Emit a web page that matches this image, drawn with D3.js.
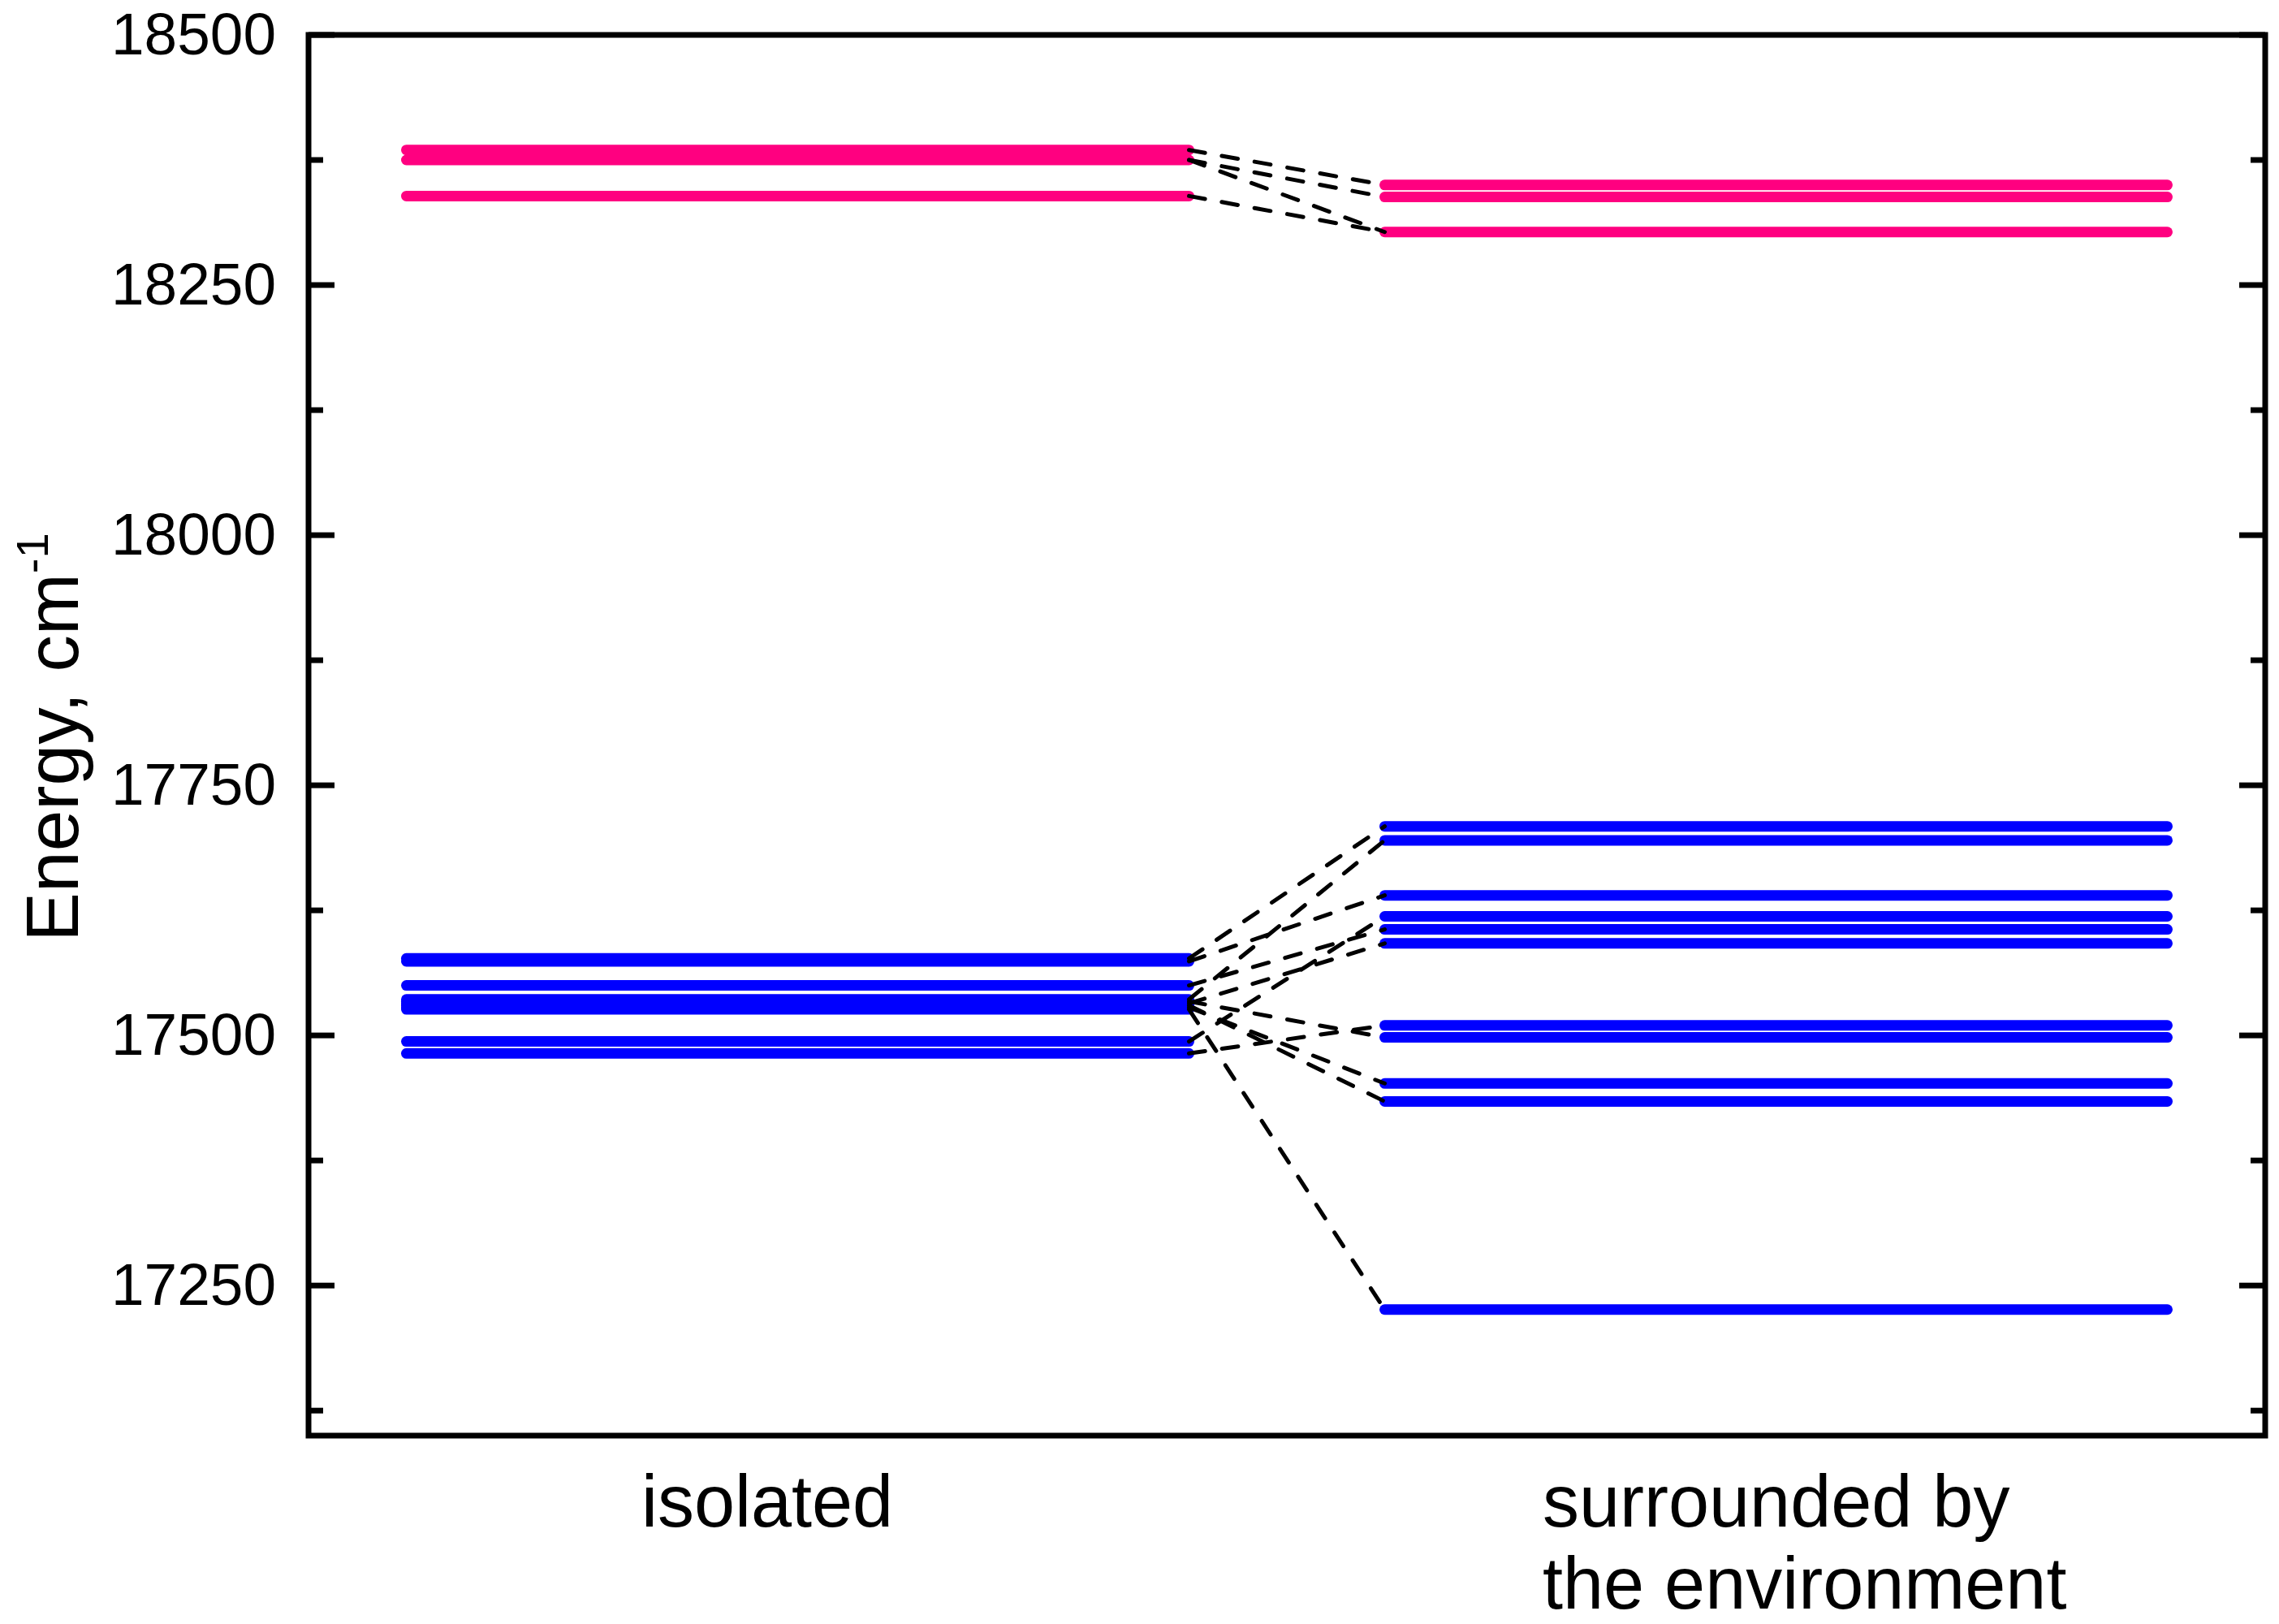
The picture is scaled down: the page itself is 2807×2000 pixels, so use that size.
<!DOCTYPE html>
<html>
<head>
<meta charset="utf-8">
<script src="https://cdn.jsdelivr.net/npm/d3@7"></script>
<style>
    body { margin: 0; background: #fff; }
    text { font-family: "Liberation Sans", Arial, sans-serif; fill: #000; }
</style>
</head>
<body>
<div id="chart"></div>
<script>
// energy levels, cm-1
const isolatedPink = [18385, 18375, 18339];
const surroundedPink = [18350, 18338, 18303];
const isolatedBlue = [17577, 17574, 17550, 17536, 17534, 17532, 17530, 17528, 17526, 17494, 17482];
const surroundedBlue = [17709, 17695, 17640, 17619, 17606, 17592, 17510, 17498, 17452, 17434, 17226];

// which isolated level goes to which level in the environment
const pinkLinks = [[18385, 18350], [18375, 18338], [18375, 18303], [18339, 18303]];
const blueLinks = [
    [17577, 17709], [17574, 17640], [17550, 17606], [17536, 17695],
    [17534, 17498], [17532, 17592], [17530, 17434], [17528, 17452],
    [17526, 17226], [17494, 17619], [17482, 17510]
];

const groupNames = [["isolated"], ["surrounded by", "the environment"]];
const majorTicks = [17250, 17500, 17750, 18000, 18250, 18500];
const minorTicks = [17125, 17375, 17625, 17875, 18125, 18375];

class LevelDiagram {

    constructor(parentElement) {
        this.parentElement = parentElement;
        this.colors = {pink: '#FF0080', blue: '#0000FF'};
        this.initVis();
    }

    initVis() {
        let vis = this;

        vis.margin = {top: 43, right: 17, bottom: 232, left: 380};
        vis.width = 2807 - vis.margin.left - vis.margin.right;
        vis.height = 2000 - vis.margin.top - vis.margin.bottom;

        vis.svg = d3.select("#" + vis.parentElement).append("svg")
            .attr("width", 2807)
            .attr("height", 2000)
            .append("g")
            .attr("transform", "translate(" + vis.margin.left + "," + vis.margin.top + ")");

        vis.x = d3.scaleLinear().domain([0, 2]).range([0, vis.width]);
        vis.y = d3.scaleLinear().domain([17100, 18500]).range([vis.height, 0]);

        // span of each column of levels
        vis.spans = [[0.1, 0.9], [1.1, 1.9]];

        this.wrangleData();
    }

    wrangleData() {
        let vis = this;

        vis.levels = [];
        isolatedPink.forEach(e => vis.levels.push({col: 0, e: e, color: vis.colors.pink}));
        surroundedPink.forEach(e => vis.levels.push({col: 1, e: e, color: vis.colors.pink}));
        isolatedBlue.forEach(e => vis.levels.push({col: 0, e: e, color: vis.colors.blue}));
        surroundedBlue.forEach(e => vis.levels.push({col: 1, e: e, color: vis.colors.blue}));

        vis.links = pinkLinks.concat(blueLinks);

        vis.updateVis();
    }

    updateVis() {
        let vis = this;

        vis.svg.selectAll(".level")
            .data(vis.levels)
            .enter()
            .append("line")
            .attr("class", "level")
            .attr("x1", d => vis.x(vis.spans[d.col][0]))
            .attr("x2", d => vis.x(vis.spans[d.col][1]))
            .attr("y1", d => vis.y(d.e))
            .attr("y2", d => vis.y(d.e))
            .attr("stroke", d => d.color)
            .attr("stroke-width", 13)
            .attr("stroke-linecap", "round");

        vis.svg.selectAll(".link")
            .data(vis.links)
            .enter()
            .append("line")
            .attr("class", "link")
            .attr("x1", vis.x(vis.spans[0][1]))
            .attr("x2", vis.x(vis.spans[1][0]))
            .attr("y1", d => vis.y(d[0]))
            .attr("y2", d => vis.y(d[1]))
            .attr("stroke", "#000")
            .attr("stroke-width", 5)
            .attr("stroke-linecap", "round")
            .attr("stroke-dasharray", "20,21");

        // tick labels
        const axisL = d3.axisLeft(vis.y).tickValues(majorTicks).tickSize(0).tickPadding(40)
            .tickFormat(d3.format("d"));
        const gL = vis.svg.append("g").call(axisL);
        gL.select(".domain").remove();
        gL.selectAll("text").attr("font-size", 73).attr("font-family", "Liberation Sans, Arial, sans-serif");

        // ticks, inside on both sides
        [0, vis.width].forEach(function(xPos, i) {
            let dir = i === 0 ? 1 : -1;
            vis.svg.selectAll(".major" + i)
                .data(majorTicks)
                .enter()
                .append("line")
                .attr("x1", xPos)
                .attr("x2", xPos + dir * 32)
                .attr("y1", d => vis.y(d))
                .attr("y2", d => vis.y(d))
                .attr("stroke", "#000")
                .attr("stroke-width", 7);
            vis.svg.selectAll(".minor" + i)
                .data(minorTicks)
                .enter()
                .append("line")
                .attr("x1", xPos)
                .attr("x2", xPos + dir * 18)
                .attr("y1", d => vis.y(d))
                .attr("y2", d => vis.y(d))
                .attr("stroke", "#000")
                .attr("stroke-width", 7);
        });

        vis.svg.append("rect")
            .attr("x", 0)
            .attr("y", 0)
            .attr("width", vis.width)
            .attr("height", vis.height)
            .attr("fill", "none")
            .attr("stroke", "#000")
            .attr("stroke-width", 7);

        // axis title
        let title = vis.svg.append("text")
            .attr("transform", `translate(${96 - vis.margin.left}, ${908 - vis.margin.top}) rotate(-90)`)
            .attr("text-anchor", "middle")
            .attr("font-size", 91);
        title.append("tspan").text("Energy, cm");
        title.append("tspan").text("-1").attr("font-size", 56).attr("dy", -37);

        // column labels
        vis.svg.append("text")
            .attr("x", 945 - vis.margin.left)
            .attr("y", 1880 - vis.margin.top)
            .attr("text-anchor", "middle")
            .attr("font-size", 90)
            .text(groupNames[0][0]);

        vis.svg.append("g")
            .selectAll("text")
            .data(groupNames[1])
            .enter()
            .append("text")
            .attr("x", 1900 - vis.margin.left)
            .attr("y", (d, i) => 1880 - vis.margin.top + i * 101)
            .attr("font-size", 90)
            .text(d => d);
    }
}

new LevelDiagram("chart");
</script>
</body>
</html>
